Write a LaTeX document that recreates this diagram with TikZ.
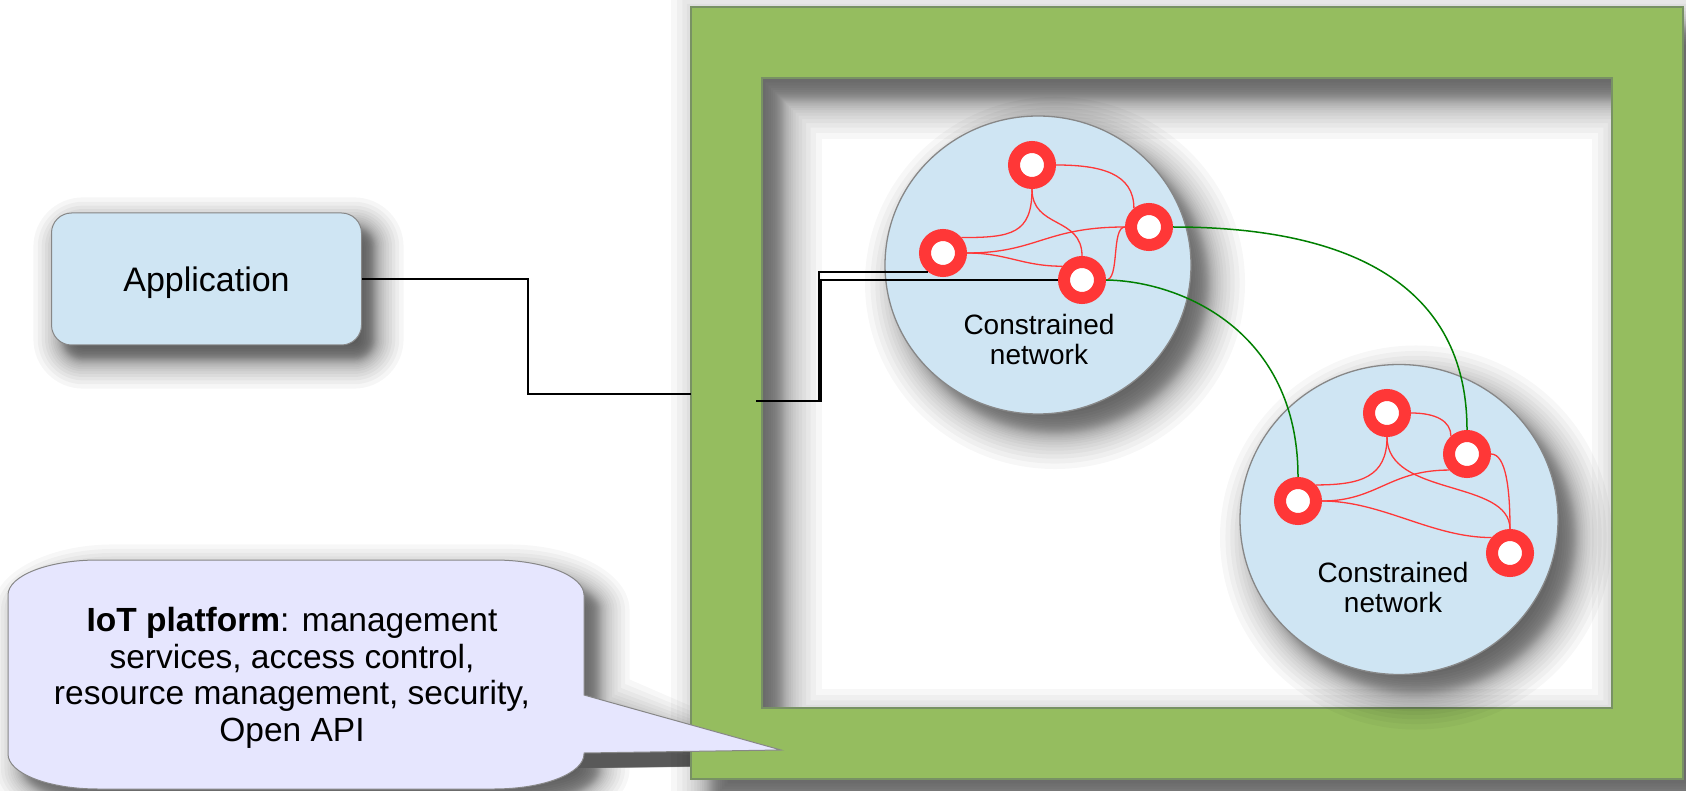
\documentclass[tikz,border=0pt]{standalone}
\usepackage{fontspec}
\setmainfont{Liberation Sans}
\usetikzlibrary{shapes.geometric}

\definecolor{frameGreen}{RGB}{149,189,95}
\definecolor{frameEdge}{RGB}{120,145,100}
\definecolor{skyFill}{RGB}{207,229,243}
\definecolor{lavFill}{RGB}{230,230,254}
\definecolor{ringRed}{RGB}{255,55,55}
\definecolor{linkGreen}{RGB}{0,128,0}
\definecolor{edgeGray}{RGB}{135,135,135}

% spread of a shadow layer: dense near the edge, sparse in the tails
\newcommand\layerspread[2]{%
  \pgfmathsetmacro\u{-1+2*(#2+0.5)/30}%
  \pgfmathsetmacro\t{#1*\u*(0.35+0.65*\u*\u)}}

\begin{document}
\begin{tikzpicture}[x=1pt,y=-1pt,
  appbox/.style={rectangle, rounded corners=20pt, draw=edgeGray, line width=1pt,
    fill=skyFill, minimum width=310pt, minimum height=132pt, inner sep=0pt,
    text depth=0pt, font=\fontsize{34}{39}\selectfont},
  netdisc/.style={ellipse, draw=edgeGray, line width=1.3pt, fill=skyFill, inner sep=0pt},
  netlabel/.style={align=center, inner sep=0pt, font=\fontsize{28}{30}\selectfont},
  ring/.style={circle, draw=ringRed, fill=white, line width=12pt, minimum size=36pt,
    inner sep=0pt, outer sep=6pt},
  mesh/.style={draw=ringRed, line width=1.3pt},
  uplink/.style={draw=linkGreen, line width=1.5pt},
  wire/.style={draw=black, line width=1.5pt},
  noteText/.style={align=center, inner sep=0pt, font=\fontsize{33.5}{36.6}\selectfont},
  calloutShape/.style={draw=edgeGray, line width=1pt, fill=lavFill},
  shade/.style={fill=black, draw=none}]

\useasboundingbox (0,0) rectangle (1686,791);
\fill[white] (0,0) rectangle (1686,791);

% ---- soft shadows, built from stacked translucent layers ----
% application box
\foreach \k in {0,...,29}{
  \layerspread{32}{\k}
  \pgfmathsetmacro\rr{max(20+\t,0.5)}
  \fill[shade, opacity=0.034, rounded corners=\rr pt]
    ({63-(\t)},{227-(\t)}) rectangle ({374+(\t)},{359+(\t)});
}
% callout
\foreach \k in {0,...,29}{
  \layerspread{33}{\k}
  \pgfmathsetmacro\xa{23-(\t)}
  \pgfmathsetmacro\xb{599+(\t)}
  \pgfmathsetmacro\ya{575-(\t)}
  \pgfmathsetmacro\yb{804+(\t)}
  \pgfmathsetmacro\rx{90+(\t)}
  \pgfmathsetmacro\ry{35+(\t)}
  \pgfmathsetmacro\pa{710-(\t)}
  \pgfmathsetmacro\tx{796+(\t)}
  \fill[shade, opacity=0.032]
    ({\xa+\rx},\ya) -- ({\xb-\rx},\ya)
    arc[start angle=270, end angle=360, x radius=\rx, y radius=\ry]
    -- (\xb,\pa) -- (\tx,765) -- (\xb,768) -- (\xb,{\yb-\ry})
    arc[start angle=0, end angle=90, x radius=\rx, y radius=\ry]
    -- ({\xa+\rx},\yb)
    arc[start angle=90, end angle=180, x radius=\rx, y radius=\ry]
    -- (\xa,{\ya+\ry})
    arc[start angle=180, end angle=270, x radius=\rx, y radius=\ry] -- cycle;
}
% platform frame
\foreach \k in {0,...,29}{
  \layerspread{43}{\k}
  \fill[shade, opacity=0.030, even odd rule]
    ({711-(\t)},{28-(\t)}) rectangle ({1703+(\t)},{800+(\t)})
    ({782+(\t)},{99+(\t)}) rectangle ({1632-(\t)},{729-(\t)});
}

% ---- IoT platform frame ----
\draw[draw=frameEdge, line width=1.5pt, fill=frameGreen, even odd rule]
  (691,7) rectangle (1683,779) (762,78) rectangle (1612,708);

% shadows of the two constrained networks
\foreach \k in {0,...,29}{
  \layerspread{40}{\k}
  \fill[shade, opacity=0.030] (1055,283) ellipse [x radius={153+\t}, y radius={149+\t}];
  \fill[shade, opacity=0.030] (1416,537.5) ellipse [x radius={159+\t}, y radius={155+\t}];
}

% ---- constrained networks ----
\node[netdisc, minimum width=306pt, minimum height=298pt] (net1) at (1038,265) {};
\node[netdisc, minimum width=318pt, minimum height=310pt] (net2) at (1399,519.5) {};
\node[netlabel] (net1txt) at (1039,339) {Constrained\\network};
\node[netlabel] (net2txt) at (1393,587) {Constrained\\network};

% devices
\node[ring] (r1) at (1032,165) {};
\node[ring] (r2) at (943,253) {};
\node[ring] (r3) at (1149,227) {};
\node[ring] (r4) at (1082,280) {};
\node[ring] (s1) at (1387,413) {};
\node[ring] (s2) at (1467,454) {};
\node[ring] (s3) at (1298,501) {};
\node[ring] (s4) at (1510,553) {};

% mesh links, first network
\draw[mesh] (r1.east) .. controls +(45,0) and +(0,-35) .. (r3.129);
\draw[mesh] (r1.south) .. controls +(0,45) and +(50,0) .. (r2.40);
\draw[mesh] (r1.south) .. controls +(0,40) and +(0,-40) .. (r4.north);
\draw[mesh] (r2.east) .. controls +(70,0) and +(-80,0) .. (r3.west);
\draw[mesh] (r2.east) .. controls +(40,0) and +(-40,0) .. (r4.145);
\draw[mesh] (r4.east) .. controls +(14,0) and +(-14,0) .. (r3.west);

% mesh links, second network
\draw[mesh] (s1.east) .. controls +(25,0) and +(0,-15) .. (s2.132);
\draw[mesh] (s1.south) .. controls +(0,40) and +(45,0) .. (s3.42);
\draw[mesh] (s1.south) .. controls +(0,60) and +(0,-50) .. (s4.north);
\draw[mesh] (s3.east) .. controls +(55,0) and +(-60,0) .. (s2.222);
\draw[mesh] (s3.east) .. controls +(60,0) and +(-60,0) .. (s4.140);
\draw[mesh] (s2.east) .. controls +(15,0) and +(0,-40) .. (s4.north);

% links between the two networks
\draw[uplink] (r3.east) .. controls +(177,0) and +(0,-145) .. (s2.north);
\draw[uplink] (r4.east) .. controls +(74,1) and +(0,-147) .. (s3.north);

% ---- application ----
\node[appbox] (app) at (206.5,279) {Application};

% wiring from the application into the platform and on to the gateways
\coordinate (frameW) at (691,394);
\coordinate (gwIn) at (756,401);
\draw[wire] (app.east) -- ++(166,0) |- (frameW);
\draw[wire] (gwIn) -- ++(63,0) |- (r2.232);
\draw[wire] (gwIn) -- ++(65,0) |- (r4.west);

% ---- callout describing the platform ----
\draw[calloutShape]
  (98,560) -- (494,560)
  arc[start angle=270, end angle=360, x radius=90, y radius=35]
  -- (584,695) -- (781,750) -- (584,753) -- (584,754)
  arc[start angle=0, end angle=90, x radius=90, y radius=35]
  -- (98,789)
  arc[start angle=90, end angle=180, x radius=90, y radius=35]
  -- (8,595)
  arc[start angle=180, end angle=270, x radius=90, y radius=35] -- cycle;
\node[noteText] (note) at (292,678)
  {\textbf{IoT platform}: management\\services, access control,\\resource management, security,\\Open API};

\end{tikzpicture}
\end{document}
